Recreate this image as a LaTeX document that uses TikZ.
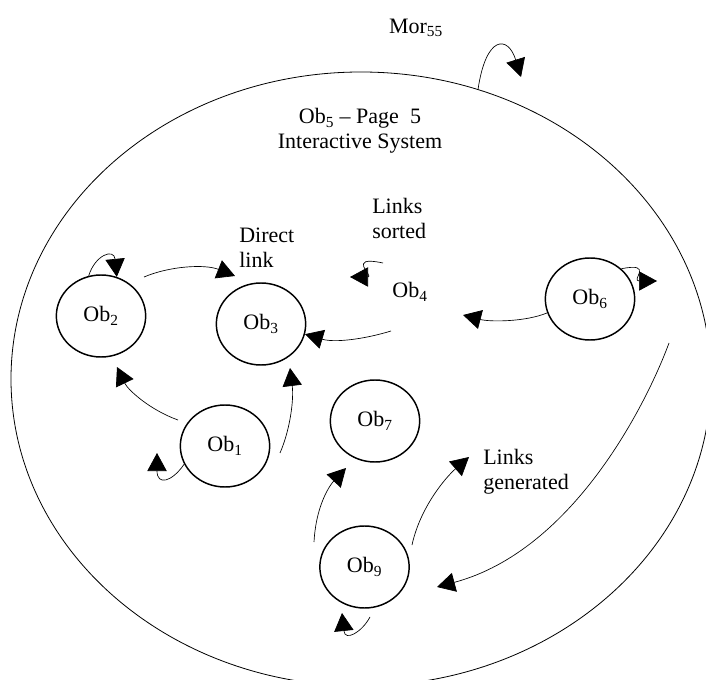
\documentclass[tikz,border=0pt]{standalone}
\usepackage{fontspec}
\setmainfont{Liberation Serif}
\usetikzlibrary{arrows.meta,shapes.geometric}
\begin{document}
\begin{tikzpicture}[x=0.75pt,y=-0.75pt,
  every node/.style={font=\fontsize{16.5}{19}\selectfont, inner sep=0pt},
  obnode/.style={draw, ellipse, line width=1.1pt, minimum width=67pt, minimum height=61.5pt, inner sep=0pt},
  lbl/.style={align=left, anchor=west},
  arr/.style={line width=0.5pt, -{Triangle[length=13.5pt,width=14.5pt]}}]
\useasboundingbox (0,0) rectangle (706,680);
\clip (0,0) rectangle (706,680);
% outer system
\node[draw, ellipse, line width=0.6pt, minimum width=525pt, minimum height=460.5pt] (ob5) at (361,379) {};
\node[align=center] (ob5t) at (360,131) {Ob\textsubscript{5} – Page~ 5\\Interactive System};
\node (mor) at (416,28) {Mor\textsubscript{55}};
% objects
\node[obnode] (ob2) at (101,316) {Ob\textsubscript{2}};
\node[obnode] (ob3) at (261,324) {Ob\textsubscript{3}};
\node[obnode] (ob1) at (225,446) {Ob\textsubscript{1}};
\node[obnode] (ob7) at (375,421) {Ob\textsubscript{7}};
\node[obnode] (ob6) at (590,299) {Ob\textsubscript{6}};
\node[obnode] (ob9) at (364.5,567) {Ob\textsubscript{9}};
\node (ob4) at (410,292) {Ob\textsubscript{4}};
% labels
\node[lbl] (direct) at (239,247.5) {Direct\\link};
\node[lbl] (sorted) at (372,218.5) {Links\\sorted};
\node[lbl] (gen) at (483,472) {Links\\generated};
% free ends
\coordinate (morTip) at (521,77);
\coordinate (o2o3s) at (144,277);
\coordinate (o2o3t) at (235,276);
\coordinate (o4ls) at (383,263);
\coordinate (o4lt) at (350,277);
\coordinate (o4o3s) at (391,331);
\coordinate (o6t) at (463,315);
\coordinate (o6lt) at (657,281);
\coordinate (o1o2s) at (178,420);
\coordinate (o1o2t) at (117,367);
\coordinate (o1o3s) at (280,453);
\coordinate (o1o3t) at (290,368);
\coordinate (o1lt) at (157,453);
\coordinate (o9o7s) at (314,542);
\coordinate (o9o7t) at (346,468);
\coordinate (o9gs) at (412,545);
\coordinate (o9gt) at (469,457);
\coordinate (o9ls) at (370,617);
\coordinate (o9lt) at (342,613);
\coordinate (longs) at (669,343);
\coordinate (longt) at (437,587);
% connectors
\draw[arr] (ob5.68) .. controls (486,35) and (508,35) .. (morTip);
\draw[arr] (ob2.107) .. controls (95,255) and (114,248) .. (ob2.68);
\draw[arr] (o2o3s) .. controls (170,266) and (205,264) .. (o2o3t);
\draw[arr] (o4ls) .. controls (345,255) and (375,277) .. (o4lt);
\draw[arr] (o4o3s) .. controls (365,339) and (335,343) .. (ob3.347);
\draw[arr] (ob6.198) .. controls (525,322) and (490,322) .. (o6t);
\draw[arr] (ob6.44) .. controls (655,262) and (630,281) .. (o6lt);
\draw[arr] (o1o2s) .. controls (150,410) and (128,390) .. (o1o2t);
\draw[arr] (o1o3s) .. controls (290,430) and (294,400) .. (o1o3t);
\draw[arr] (ob1.204) .. controls (172,482) and (157,486) .. (o1lt);
\draw[arr] (o9o7s) .. controls (316,505) and (330,485) .. (o9o7t);
\draw[arr] (o9gs) .. controls (420,508) and (445,478) .. (o9gt);
\draw[arr] (o9ls) .. controls (362,632) and (345,642) .. (o9lt);
\draw[arr] (longs) .. controls (648,400) and (575,550) .. (longt);
\end{tikzpicture}
\end{document}
